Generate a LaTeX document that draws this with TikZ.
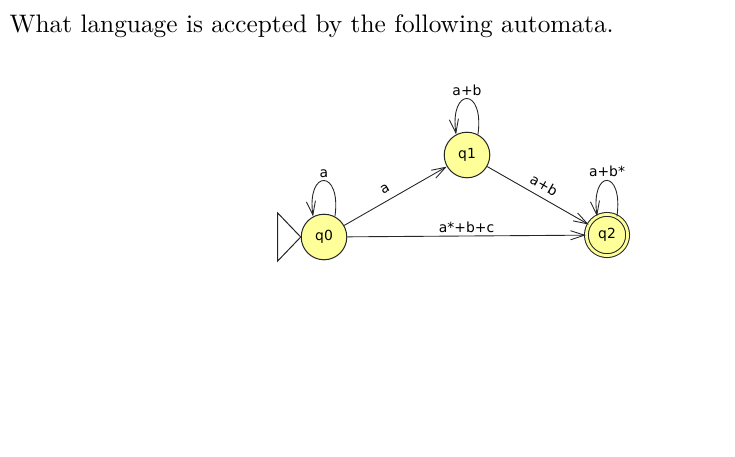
\documentclass[tikz,border=0pt]{standalone}
\usepackage{fontspec}
\newfontfamily\statefont{DejaVu Sans}
\usepackage{xcolor}
\usepackage{tikz}
\usetikzlibrary{arrows.meta}
\definecolor{statefill}{RGB}{255,255,153}

\begin{document}
\begin{tikzpicture}[x=0.395pt, y=-0.395pt, >={Straight Barb[length=5.5pt, width=3.6pt]},
    every node/.style={font=\statefont\fontsize{5.5}{6.5}\selectfont},
    state/.style={circle, draw=black!85, fill=statefill, line width=0.4pt, minimum size=18pt, inner sep=0pt},
    final/.style={state, minimum size=16.3pt, double=statefill, double distance=1.1pt},
    trans/.style={->, line width=0.35pt, draw=black!85},
    selfloop/.style={trans, to path={(\tikztostart.62) .. controls +(82:19pt) and +(98:19pt) .. (\tikztostart.118) \tikztonodes}},
    lbl/.style={inner sep=1.2pt}]
    \useasboundingbox (0,0) rectangle (735,456);

    \node[anchor=base west, inner sep=0pt, font=\rmfamily\fontsize{10}{12}\selectfont] (title) at (9,32)
        {What language is accepted by the following automata.};

    % states
    \node[state] (q0) at (324,237) {q0};
    \node[state] (q1) at (467,155) {q1};
    \node[final] (q2) at (607,235) {q2};

    % start marker
    \draw[line width=0.4pt, draw=black!85] (q0.west) -- ++(-23,-24) -- ++(0,48) -- cycle;

    % transitions
    \draw[trans] (q0) -- node[sloped, above, inner sep=2.6pt, pos=0.45] {a} (q1);
    \draw[trans] (q1) -- node[sloped, above, inner sep=2.6pt] {a+b} (q2);
    \draw[trans] (q0) -- node[above, lbl] {a*+b+c} (q2);

    \path (q0) edge[selfloop] node[above, lbl] {a} (q0);
    \path (q1) edge[selfloop] node[above, lbl] {a+b} (q1);
    \path (q2) edge[selfloop] node[above, lbl] {a+b*} (q2);
\end{tikzpicture}
\end{document}
